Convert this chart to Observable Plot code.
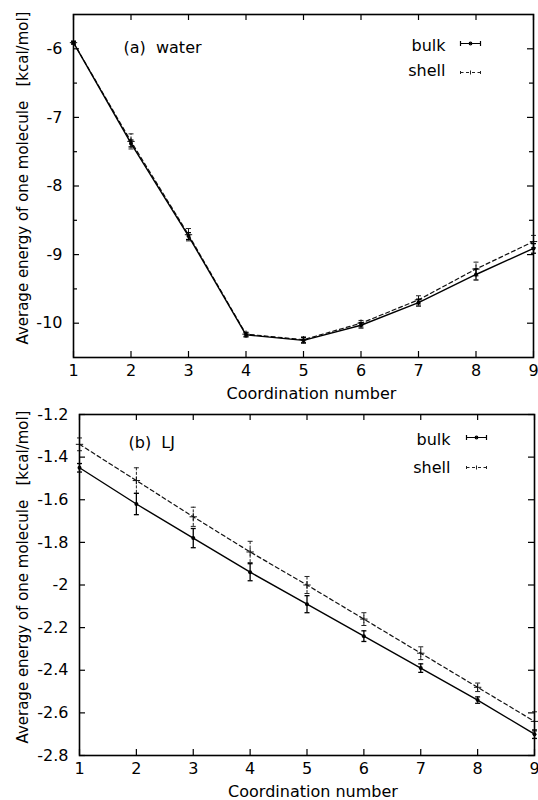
<!DOCTYPE html>
<html><head><meta charset="utf-8">
<script src="https://cdn.jsdelivr.net/npm/d3@7"></script>
<script src="https://cdn.jsdelivr.net/npm/@observablehq/plot@0.6"></script>
<style>
body{margin:0;background:#fff;width:538px;height:800px;overflow:hidden;position:relative}
#a,#b{position:absolute;left:0}
#a{top:0}
#b{top:405px}
.ytitle{position:absolute;width:400px;height:20px;line-height:20px;text-align:center;white-space:pre;
  font-family:'DejaVu Sans',sans-serif;font-size:15px;color:#000;transform:rotate(-90deg);transform-origin:50% 50%}
</style></head><body><div id="a"></div><div id="b"></div>
<div class="ytitle" id="ta" style="left:-177px;top:168px"></div>
<div class="ytitle" id="tb" style="left:-177px;top:567px"></div>
<script>
// ---- data ----
const coord = [1, 2, 3, 4, 5, 6, 7, 8, 9];
const waterBulk = [-5.91, -7.38, -8.73, -10.17, -10.25, -10.03, -9.70, -9.29, -8.91];
const waterBulkErr = [0.02, 0.05, 0.05, 0.03, 0.04, 0.04, 0.05, 0.08, 0.07];
const waterShell = [-5.91, -7.35, -8.71, -10.16, -10.24, -10.00, -9.66, -9.21, -8.81];
const waterShellErr = [0.02, 0.11, 0.09, 0.03, 0.04, 0.04, 0.06, 0.10, 0.09];
const ljBulk = [-1.45, -1.62, -1.78, -1.94, -2.09, -2.24, -2.39, -2.54, -2.70];
const ljBulkErr = [0.02, 0.05, 0.045, 0.04, 0.04, 0.025, 0.02, 0.015, 0.02];
const ljShell = [-1.34, -1.51, -1.68, -1.845, -2.00, -2.16, -2.32, -2.48, -2.64];
const ljShellErr = [0.03, 0.06, 0.045, 0.05, 0.04, 0.03, 0.03, 0.02, 0.045];
const xTicks = [1, 2, 3, 4, 5, 6, 7, 8, 9];
const waterYTicks = [-6, -7, -8, -9, -10];
const waterYMinor = [-6.5, -7.5, -8.5, -9.5];
const ljYTicks = [-1.2, -1.4, -1.6, -1.8, -2, -2.2, -2.4, -2.6, -2.8];
const seriesNames = ["bulk", "shell"];
const xTitle = "Coordination number";
const yTitle = "Average energy of one molecule   [kcal/mol]";

document.getElementById("ta").textContent = yTitle;
document.getElementById("tb").textContent = yTitle;

function rows(vals, errs) {
  return coord.map((c, i) => ({x: c, y: vals[i], lo: vals[i] - errs[i], hi: vals[i] + errs[i]}));
}

const capSym = {draw(ctx) { ctx.moveTo(-2.5, 0); ctx.lineTo(2.5, 0); }};
const bulkSampleSym = {draw(ctx) {
  ctx.moveTo(-10, 0); ctx.lineTo(10, 0);
  ctx.moveTo(-10, -2.5); ctx.lineTo(-10, 2.5);
  ctx.moveTo(10, -2.5); ctx.lineTo(10, 2.5);
  ctx.moveTo(1.3, 0); ctx.arc(0, 0, 1.3, 0, 2 * Math.PI);
}};
const shellSampleSym = {draw(ctx) {
  ctx.moveTo(-10, 0); ctx.lineTo(-7, 0);
  ctx.moveTo(-4.5, 0); ctx.lineTo(-1.5, 0);
  ctx.moveTo(1.5, 0); ctx.lineTo(4.5, 0);
  ctx.moveTo(7, 0); ctx.lineTo(10, 0);
  ctx.moveTo(0, -2); ctx.lineTo(0, 2);
  ctx.moveTo(-10, -1.5); ctx.lineTo(-10, 1.5);
  ctx.moveTo(10, -1.5); ctx.lineTo(10, 1.5);
}};

function panel(o) {
  const innerW = 538 - o.ml - o.mr;
  const innerH = o.height - o.mt - o.mb;
  const bulk = rows(o.bulk, o.bulkErr);
  const shell = rows(o.shell, o.shellErr);
  const marks = [
    // inward ticks
    Plot.tickX(xTicks, {x: d => d, insetTop: innerH - 6, strokeWidth: 1.2}),
    Plot.tickX(xTicks, {x: d => d, insetBottom: innerH - 6, strokeWidth: 1.2}),
    Plot.tickY(o.yTicks, {y: d => d, insetRight: innerW - 6, strokeWidth: 1.2}),
    Plot.tickY(o.yTicks, {y: d => d, insetLeft: innerW - 6, strokeWidth: 1.2}),
    Plot.tickY(o.yMinor, {y: d => d, insetRight: innerW - 4, strokeWidth: 1.2}),
    Plot.tickY(o.yMinor, {y: d => d, insetLeft: innerW - 4, strokeWidth: 1.2}),
    Plot.axisX({ticks: xTicks, tickSize: 0, tickPadding: 7, tickFormat: d => String(d), label: null, fontSize: 16}),
    Plot.axisY({ticks: o.yTicks, tickSize: 0, tickPadding: 11, tickFormat: d => String(d), label: null, fontSize: 16}),
    // shell
    Plot.line(shell, {x: "x", y: "y", stroke: "#111", strokeWidth: 1.2, strokeDasharray: "4,3"}),
    Plot.ruleX(shell, {x: "x", y1: "lo", y2: "hi", stroke: "#222", strokeWidth: 1, strokeDasharray: "3,1.5"}),
    Plot.dot(shell, {x: "x", y: "lo", symbol: capSym, r: 3, stroke: "#222", strokeWidth: 1}),
    Plot.dot(shell, {x: "x", y: "hi", symbol: capSym, r: 3, stroke: "#222", strokeWidth: 1}),
    Plot.dot(shell, {x: "x", y: "y", symbol: "plus", r: 2.5, stroke: "#111", strokeWidth: 1}),
    // bulk
    Plot.line(bulk, {x: "x", y: "y", stroke: "#000", strokeWidth: 1.4}),
    Plot.ruleX(bulk, {x: "x", y1: "lo", y2: "hi", stroke: "#000", strokeWidth: 1.3}),
    Plot.dot(bulk, {x: "x", y: "lo", symbol: capSym, r: 3, stroke: "#000", strokeWidth: 1.3}),
    Plot.dot(bulk, {x: "x", y: "hi", symbol: capSym, r: 3, stroke: "#000", strokeWidth: 1.3}),
    Plot.dot(bulk, {x: "x", y: "y", r: 2, fill: "#000"}),
    Plot.frame({stroke: "#000", strokeWidth: 1.6}),
    // panel tag
    Plot.text([o.tag], {text: d => d, frameAnchor: "top-left", dx: o.tagDx, dy: o.tagDy, textAnchor: "start", lineAnchor: "middle", fontSize: 16}),
    // legend
    Plot.text([seriesNames[0]], {text: d => d, frameAnchor: "top-right", dx: o.legDx, dy: o.legDy[0], textAnchor: "end", lineAnchor: "middle", fontSize: 16}),
    Plot.text([seriesNames[1]], {text: d => d, frameAnchor: "top-right", dx: o.legDx, dy: o.legDy[1], textAnchor: "end", lineAnchor: "middle", fontSize: 16}),
    Plot.dot([seriesNames[0]], {frameAnchor: "top-right", dx: o.sampDx, dy: o.sampDy[0], symbol: bulkSampleSym, r: 3, stroke: "#000", strokeWidth: 1.2}),
    Plot.dot([seriesNames[1]], {frameAnchor: "top-right", dx: o.sampDx, dy: o.sampDy[1], symbol: shellSampleSym, r: 3, stroke: "#222", strokeWidth: 1}),
    // x title
    Plot.text([xTitle], {text: d => d, frameAnchor: "bottom", dx: o.xtDx, dy: 30, lineAnchor: "top", fontSize: 16})
  ];
  return Plot.plot({
    width: 538, height: o.height,
    marginTop: o.mt, marginBottom: o.mb, marginLeft: o.ml, marginRight: o.mr,
    x: {domain: [1, 9]},
    y: {domain: o.yDomain},
    style: {fontFamily: "'DejaVu Sans', sans-serif", fontSize: "16px", color: "#000", background: "transparent", overflow: "visible"},
    marks
  });
}

document.getElementById("a").append(panel({
  height: 405, mt: 14, mb: 48, ml: 73, mr: 5,
  bulk: waterBulk, bulkErr: waterBulkErr, shell: waterShell, shellErr: waterShellErr,
  yDomain: [-10.5, -5.5], yTicks: waterYTicks, yMinor: waterYMinor,
  tag: "(a)\u00A0 water", tagDx: 50, tagDy: 33,
  legDx: -88, legDy: [31, 56], sampDx: -63, sampDy: [29, 58],
  xtDx: 8
}));
document.getElementById("b").append(panel({
  height: 395, mt: 9, mb: 45, ml: 79, mr: 4,
  bulk: ljBulk, bulkErr: ljBulkErr, shell: ljShell, shellErr: ljShellErr,
  yDomain: [-2.8, -1.2], yTicks: ljYTicks, yMinor: [],
  tag: "(b)\u00A0 LJ", tagDx: 49, tagDy: 28,
  legDx: -84, legDy: [25, 53], sampDx: -58, sampDy: [23, 53],
  xtDx: 6
}));
</script>
</body></html>
